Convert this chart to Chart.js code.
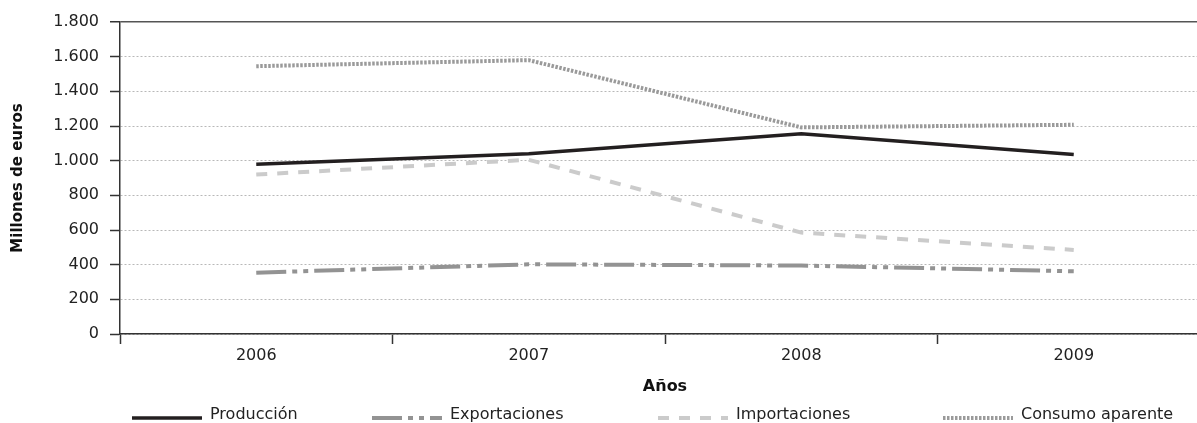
<!DOCTYPE html>
<html>
<head>
<meta charset="utf-8">
<script src="https://cdn.jsdelivr.net/npm/chart.js@4/dist/chart.umd.min.js"></script>
<style>
  html, body { margin: 0; padding: 0; background: #fff; overflow: hidden; }
  #wrap { width: 1214px; height: 423px; }
</style>
</head>
<body>
<div id="wrap"><canvas id="c" width="1214" height="423" style="width:1214px;height:423px"></canvas></div>
<script>
const years = ['2006', '2007', '2008', '2009'];
const produccion = [980, 1040, 1155, 1035];
const exportaciones = [354, 402, 395, 362];
const importaciones = [920, 1005, 585, 485];
const consumoAparente = [1545, 1580, 1192, 1207];
const yTicks = [0, 200, 400, 600, 800, 1000, 1200, 1400, 1600, 1800];
const seriesNames = ['Producción', 'Exportaciones', 'Importaciones', 'Consumo aparente'];
const xTitle = 'Años';
const yTitle = 'Millones de euros';

const FONT = '"DejaVu Sans", sans-serif';

const legendPlugin = {
  id: 'customLegend',
  afterDraw(chart) {
    const ctx = chart.ctx;
    const starts = [132, 372, 658, 943];
    const swatchW = 70, textOff = 78, yLine = 418, yText = 415;
    chart.data.datasets.forEach((ds, i) => {
      ctx.save();
      ctx.strokeStyle = ds.borderColor;
      ctx.lineWidth = ds.borderWidth;
      ctx.setLineDash(ds.borderDash || []);
      ctx.lineCap = 'butt';
      ctx.beginPath();
      ctx.moveTo(starts[i], yLine);
      ctx.lineTo(starts[i] + swatchW, yLine);
      ctx.stroke();
      ctx.setLineDash([]);
      ctx.fillStyle = '#222';
      ctx.font = '16px ' + FONT;
      ctx.textBaseline = 'middle';
      ctx.textAlign = 'left';
      ctx.fillText(ds.label, starts[i] + textOff, yText);
      ctx.restore();
    });
  }
};

new Chart(document.getElementById('c'), {
  type: 'line',
  data: {
    labels: years,
    datasets: [
      { label: seriesNames[0], data: produccion, borderColor: '#231f20', borderWidth: 3.5, borderDash: [] },
      { label: seriesNames[1], data: exportaciones, borderColor: '#939393', borderWidth: 4, borderDash: [30, 6, 5, 6, 5, 6] },
      { label: seriesNames[2], data: importaciones, borderColor: '#cbcbcb', borderWidth: 4, borderDash: [11, 10] },
      { label: seriesNames[3], data: consumoAparente, borderColor: '#9a9a9a', borderWidth: 4, borderDash: [2.5, 1.5] }
    ].map(d => Object.assign(d, { pointRadius: 0, pointHoverRadius: 0, tension: 0, fill: false, borderCapStyle: 'butt' }))
  },
  options: {
    responsive: false,
    animation: false,
    events: [],
    layout: { padding: { left: 0, right: 4, top: 22, bottom: 27 } },
    plugins: { legend: { display: false }, tooltip: { enabled: false } },
    scales: {
      x: {
        type: 'category',
        offset: true,
        afterFit(scale) { scale.height = 62; },
        grid: { display: true, drawOnChartArea: false, drawTicks: true, offset: true, tickLength: 10, tickColor: '#333', tickWidth: 1.5 },
        border: { display: true, color: '#333', width: 1.5 },
        ticks: { color: '#222', font: { family: FONT, size: 16 }, padding: 2, maxRotation: 0 },
        title: { display: true, text: xTitle, color: '#111', font: { family: FONT, size: 16, weight: 'bold' }, padding: { top: 0, bottom: 0 } }
      },
      y: {
        min: 0,
        max: 1800,
        afterFit(scale) { scale.width = 120; },
        afterBuildTicks(scale) { scale.ticks = yTicks.map(v => ({ value: v })); },
        grid: {
          color: ctx => (ctx.tick && ctx.tick.value === 1800) ? '#555' : '#b8b8b8',
          lineWidth: ctx => (ctx.tick && ctx.tick.value === 1800) ? 1.5 : 1,
          drawTicks: true, tickLength: 10, tickColor: '#333', tickWidth: 1.5
        },
        border: {
          display: true, color: '#333', width: 1.5,
          dash: ctx => (ctx.tick && ctx.tick.value === 1800) ? [] : [2, 2]
        },
        ticks: {
          color: '#222', font: { family: FONT, size: 16 }, padding: 11,
          callback: v => v.toLocaleString('de-DE')
        },
        title: { display: true, text: yTitle, color: '#111', font: { family: FONT, size: 15, weight: 'bold' }, padding: { top: 9, bottom: 0 } }
      }
    }
  },
  plugins: [legendPlugin]
});
</script>
</body>
</html>
